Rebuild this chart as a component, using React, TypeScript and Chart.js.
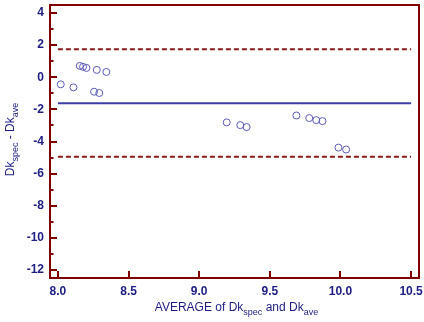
import React, { useEffect, useRef } from "react";
import { Chart, registerables } from "chart.js";

Chart.register(...registerables);

// ---- data ----
const xValues = [8.02, 8.11, 8.155, 8.178, 8.202, 8.275, 8.256, 8.293, 8.343, 9.195, 9.291, 9.336, 9.688, 9.779, 9.829, 9.873, 9.986, 10.04];
const yValues = [-0.44, -0.63, 0.71, 0.65, 0.58, 0.46, -0.9, -0.98, 0.33, -2.81, -2.98, -3.1, -2.38, -2.54, -2.67, -2.73, -4.38, -4.5];
const meanDiff = -1.62;
const upperLimit = 1.75;
const lowerLimit = -4.95;
const lineRange = [8.0, 10.5];
const xTicks = [8.0, 8.5, 9.0, 9.5, 10.0, 10.5];
const yTicks = [-12, -10, -8, -6, -4, -2, 0, 2, 4];
const yMinorTicks = [-11, -9, -7, -5, -3, -1, 1, 3];

const NAVY = "#1c1c84";
const DARKRED = "#800000";
const FONT = "'Liberation Sans', Arial, sans-serif";

function drawSubText(ctx: CanvasRenderingContext2D, parts: [string, boolean][], cx: number, cy: number) {
  const big = `12px ${FONT}`;
  const small = `9px ${FONT}`;
  let total = 0;
  for (const [t, sub] of parts) {
    ctx.font = sub ? small : big;
    total += ctx.measureText(t).width;
  }
  let x = cx - total / 2;
  ctx.textBaseline = "alphabetic";
  ctx.textAlign = "left";
  for (const [t, sub] of parts) {
    ctx.font = sub ? small : big;
    ctx.fillText(t, x, sub ? cy + 4 : cy);
    x += ctx.measureText(t).width;
  }
}

const framePlugin = {
  id: "frame",
  afterDraw(chart: any) {
    const { ctx, chartArea } = chart;
    const xs = chart.scales.x;
    const ys = chart.scales.y;
    ctx.save();
    ctx.strokeStyle = DARKRED;
    ctx.lineWidth = 2;
    ctx.strokeRect(chartArea.left, chartArea.top, chartArea.right - chartArea.left, chartArea.bottom - chartArea.top);
    ctx.beginPath();
    for (const v of yTicks) {
      const y = Math.round(ys.getPixelForValue(v));
      ctx.moveTo(chartArea.left, y);
      ctx.lineTo(chartArea.left + 7, y);
    }
    for (const v of yMinorTicks) {
      const y = Math.round(ys.getPixelForValue(v));
      ctx.moveTo(chartArea.left, y);
      ctx.lineTo(chartArea.left + 3.5, y);
    }
    for (const v of xTicks) {
      const x = Math.round(xs.getPixelForValue(v));
      ctx.moveTo(x, chartArea.bottom);
      ctx.lineTo(x, chartArea.bottom - 7);
    }
    ctx.stroke();

    // titles
    ctx.fillStyle = NAVY;
    const cx = (chartArea.left + chartArea.right) / 2 + 2;
    drawSubText(ctx, [["AVERAGE of Dk", false], ["spec", true], [" and Dk", false], ["ave", true]], cx, 311);
    ctx.save();
    ctx.translate(9, (chartArea.top + chartArea.bottom) / 2 - 2);
    ctx.rotate(-Math.PI / 2);
    drawSubText(ctx, [["Dk", false], ["spec", true], [" - Dk", false], ["ave", true]], 0, 5);
    ctx.restore();
    ctx.restore();
  },
};

export default function App() {
  const ref = useRef<HTMLCanvasElement>(null);
  useEffect(() => {
    document.body.style.margin = "0";
    const points = xValues.map((x, i) => ({ x, y: yValues[i] }));
    const hline = (v: number) => lineRange.map((x) => ({ x, y: v }));
    const chart = new Chart(ref.current!, {
      type: "scatter",
      data: {
        datasets: [
          {
            type: "line",
            data: hline(upperLimit),
            borderColor: "#8b1a1a",
            borderWidth: 2,
            borderDash: [5, 3],
            pointRadius: 0,
            fill: false,
          } as any,
          {
            type: "line",
            data: hline(meanDiff),
            borderColor: "#3c3ca8",
            borderWidth: 2,
            pointRadius: 0,
            fill: false,
          } as any,
          {
            type: "line",
            data: hline(lowerLimit),
            borderColor: "#8b1a1a",
            borderWidth: 2,
            borderDash: [5, 3],
            pointRadius: 0,
            fill: false,
          } as any,
          {
            data: points,
            pointStyle: "circle",
            pointRadius: 3.5,
            borderColor: "#5a5ab8",
            backgroundColor: "rgba(0,0,0,0)",
            borderWidth: 1,
          },
        ],
      },
      options: {
        animation: false,
        responsive: false,
        maintainAspectRatio: false,
        layout: { padding: { left: 0, top: 5, right: 3, bottom: 0 } },
        plugins: { legend: { display: false }, tooltip: { enabled: false } },
        scales: {
          x: {
            type: "linear",
            min: 7.944,
            max: 10.556,
            grid: { display: false, drawTicks: false },
            border: { display: false },
            afterBuildTicks: (s: any) => {
              s.ticks = xTicks.map((v) => ({ value: v }));
            },
            afterFit: (s: any) => {
              s.height = 44;
              s.paddingLeft = 0;
              s.paddingRight = 0;
            },
            ticks: {
              color: NAVY,
              font: { family: FONT, size: 12, weight: "bold" },
              padding: 6,
              maxRotation: 0,
              autoSkip: false,
              callback: (v: any) => Number(v).toFixed(1),
            },
          },
          y: {
            type: "linear",
            min: -12.5,
            max: 4.5,
            grid: { display: false, drawTicks: false },
            border: { display: false },
            afterBuildTicks: (s: any) => {
              s.ticks = yTicks.map((v) => ({ value: v }));
            },
            afterFit: (s: any) => {
              s.width = 50;
              s.paddingTop = 0;
              s.paddingBottom = 0;
            },
            ticks: {
              color: NAVY,
              font: { family: FONT, size: 12, weight: "bold" },
              padding: 6,
              autoSkip: false,
              callback: (v: any) => String(v),
            },
          },
        },
      } as any,
      plugins: [framePlugin],
    });
    return () => chart.destroy();
  }, []);
  return (
    <div style={{ position: "fixed", left: 0, top: 0, width: 424, height: 322, background: "#fff" }}>
      <canvas ref={ref} width={424} height={322} style={{ width: 424, height: 322 }} />
    </div>
  );
}
